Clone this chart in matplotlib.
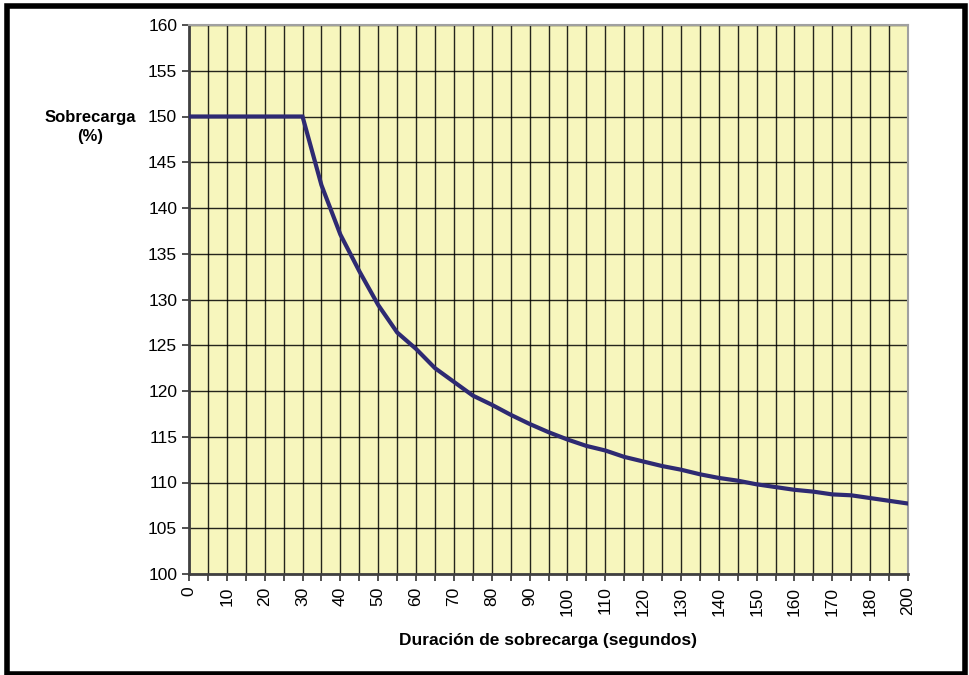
import matplotlib.pyplot as plt
from matplotlib.patches import Rectangle

plt.rcParams['font.family'] = ['Liberation Sans', 'DejaVu Sans']

# Duration categories (s) and overload values (%)
durations = [0, 5, 10, 15, 20, 25, 30, 35, 40, 45, 50, 55, 60, 65, 70, 75,
             80, 85, 90, 95, 100, 105, 110, 115, 120, 125, 130, 135, 140,
             145, 150, 155, 160, 165, 170, 175, 180, 190, 200]
overload = [150, 150, 150, 150, 150, 150, 150, 142.5, 137.1, 133.1, 129.4,
            126.4, 124.6, 122.5, 121.0, 119.5, 118.5, 117.4, 116.4, 115.5,
            114.7, 114.0, 113.5, 112.8, 112.3, 111.8, 111.4, 110.9, 110.5,
            110.2, 109.8, 109.5, 109.2, 109.0, 108.7, 108.6, 108.3, 108.0,
            107.7]
y_ticks = list(range(100, 161, 5))

fig = plt.figure(figsize=(9.69, 6.75), dpi=100)
ax = fig.add_axes([189 / 969, 1 - 574 / 675, (908 - 189) / 969, (574 - 25) / 675])
ax.set_facecolor('#f7f6bd')

idx = list(range(len(durations)))
ax.plot(idx, overload, color='#2e2a72', lw=3, solid_joinstyle='miter', zorder=3)

ax.set_xlim(0, len(durations) - 1)
ax.set_ylim(100, 160)
ax.set_yticks(y_ticks)
ax.set_xticks(idx)
ax.set_xticklabels([str(d) if i % 2 == 0 else '' for i, d in enumerate(durations)],
                   rotation=90)
ax.tick_params(axis='both', labelsize=12.5, length=5, width=1.2, color='#333333',
               direction='out')
ax.tick_params(axis='x', pad=4)
ax.grid(True, color='#000000', lw=1, alpha=0.85)
ax.set_axisbelow(True)

for side in ['left', 'bottom']:
    ax.spines[side].set_color('#404040')
    ax.spines[side].set_linewidth(2)
for side in ['top', 'right']:
    ax.spines[side].set_color('#a0a0a0')
    ax.spines[side].set_linewidth(1.5)

fig.text(90 / 969, 1 - 110 / 675, 'Sobrecarga\n(%)', ha='center', va='top',
         fontsize=12, fontweight='bold', linespacing=1.3)
fig.text(548 / 969, 1 - 640 / 675, 'Duración de sobrecarga (segundos)',
         ha='center', va='center', fontsize=12.5, fontweight='bold')

fig.patches.append(Rectangle((6.5 / 969, 1.5 / 675), (965 - 6.5) / 969, (669.5 - 1.5) / 675,
                             transform=fig.transFigure, fill=False,
                             edgecolor='black', lw=4))

fig.savefig('out.png', dpi=100)
